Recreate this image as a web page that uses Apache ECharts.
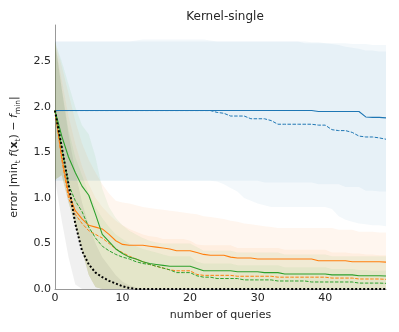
<!DOCTYPE html>
<html>
<head>
<meta charset="utf-8">
<script src="https://cdn.jsdelivr.net/npm/echarts@6/dist/echarts.min.js"></script>
<style>
  html, body { margin: 0; padding: 0; background: #fff; }
  #main { width: 399px; height: 332px; }
</style>
</head>
<body>
<div id="main"></div>
<script>
// queries 0..49
var queries = [];
for (var q = 0; q <= 49; q++) queries.push(q);

var xTicks = [0, 10, 20, 30, 40];
var yTicks = [0.0, 0.5, 1.0, 1.5, 2.0, 2.5];

// mean curves
var blueSolid = [1.96,1.96,1.96,1.96,1.96,1.96,1.96,1.96,1.96,1.96,
  1.96,1.96,1.96,1.96,1.96,1.96,1.96,1.96,1.96,1.96,
  1.96,1.96,1.96,1.96,1.96,1.96,1.96,1.96,1.96,1.96,
  1.96,1.96,1.96,1.96,1.96,1.96,1.96,1.96,1.96,1.95,
  1.95,1.95,1.95,1.95,1.95,1.95,1.89,1.885,1.885,1.88];
var blueDashed = [1.96,1.96,1.96,1.96,1.96,1.96,1.96,1.96,1.96,1.96,
  1.96,1.96,1.96,1.96,1.96,1.96,1.96,1.96,1.96,1.96,
  1.96,1.96,1.96,1.96,1.94,1.93,1.90,1.90,1.90,1.87,
  1.87,1.87,1.85,1.81,1.81,1.81,1.81,1.81,1.81,1.80,
  1.80,1.75,1.74,1.74,1.72,1.68,1.67,1.67,1.66,1.645];
var orangeSolid = [1.96,1.45,1.05,0.86,0.77,0.70,0.68,0.66,0.60,0.53,
  0.49,0.48,0.48,0.48,0.47,0.46,0.45,0.44,0.42,0.42,
  0.42,0.40,0.38,0.37,0.37,0.37,0.35,0.34,0.34,0.34,
  0.33,0.33,0.33,0.33,0.33,0.33,0.33,0.33,0.33,0.31,
  0.31,0.31,0.31,0.31,0.30,0.30,0.30,0.30,0.30,0.295];
var orangeDashed = [1.96,1.42,1.00,0.82,0.72,0.64,0.60,0.56,0.50,0.44,
  0.40,0.36,0.33,0.30,0.27,0.25,0.23,0.21,0.20,0.20,
  0.20,0.16,0.15,0.15,0.15,0.15,0.15,0.14,0.14,0.14,
  0.14,0.14,0.14,0.13,0.13,0.13,0.13,0.13,0.13,0.13,
  0.13,0.12,0.12,0.12,0.12,0.11,0.11,0.11,0.11,0.106];
var greenSolid = [1.96,1.68,1.45,1.28,1.13,1.03,0.82,0.60,0.52,0.44,
  0.39,0.35,0.33,0.30,0.28,0.27,0.26,0.25,0.25,0.25,
  0.25,0.225,0.20,0.20,0.20,0.20,0.20,0.19,0.19,0.19,
  0.19,0.18,0.18,0.18,0.165,0.165,0.165,0.165,0.165,0.165,
  0.165,0.155,0.155,0.155,0.155,0.145,0.145,0.145,0.145,0.143];
var greenDashed = [1.96,1.55,1.15,0.97,0.85,0.68,0.56,0.47,0.42,0.38,
  0.35,0.33,0.30,0.28,0.27,0.25,0.23,0.21,0.18,0.18,
  0.18,0.145,0.13,0.13,0.115,0.115,0.115,0.115,0.10,0.10,
  0.10,0.10,0.10,0.088,0.088,0.088,0.088,0.088,0.077,0.077,
  0.077,0.077,0.077,0.077,0.077,0.065,0.065,0.065,0.065,0.062];
var blackDotted = [1.96,1.56,1.15,0.72,0.42,0.27,0.18,0.13,0.09,0.06,
  0.03,0.01,0,0,0,0,0,0,0,0,
  0,0,0,0,0,0,0,0,0,0,
  0,0,0,0,0,0,0,0,0,0,
  0,0,0,0,0,0,0,0,0,0];

// spread bands: lower / upper
var blueSolidLo = [1.19,1.19,1.19,1.19,1.19,1.19,1.19,1.19,1.19,1.19,
  1.19,1.19,1.19,1.19,1.19,1.19,1.19,1.19,1.19,1.19,
  1.19,1.19,1.19,1.19,1.19,1.19,1.19,1.19,1.19,1.19,
  1.19,1.17,1.17,1.17,1.17,1.17,1.17,1.17,1.17,1.15,
  1.15,1.15,1.15,1.12,1.12,1.12,1.08,1.08,1.07,1.07];
var blueSolidHi = [2.72,2.72,2.72,2.72,2.72,2.72,2.72,2.72,2.72,2.72,
  2.72,2.72,2.73,2.74,2.74,2.74,2.74,2.74,2.74,2.74,
  2.74,2.74,2.74,2.73,2.72,2.72,2.72,2.72,2.72,2.72,
  2.72,2.72,2.72,2.72,2.72,2.72,2.72,2.72,2.71,2.71,
  2.70,2.70,2.70,2.70,2.69,2.69,2.69,2.68,2.68,2.68];
var blueDashedLo = [1.19,1.19,1.19,1.19,1.19,1.19,1.19,1.19,1.19,1.19,
  1.19,1.19,1.19,1.19,1.19,1.19,1.19,1.19,1.19,1.19,
  1.19,1.19,1.19,1.19,1.18,1.15,1.11,1.07,1.00,0.97,
  0.94,0.92,0.90,0.90,0.90,0.90,0.90,0.90,0.90,0.90,
  0.90,0.88,0.80,0.76,0.74,0.72,0.71,0.70,0.70,0.69];
var blueDashedHi = [2.72,2.72,2.72,2.72,2.72,2.72,2.72,2.72,2.72,2.72,
  2.72,2.72,2.72,2.72,2.72,2.72,2.72,2.72,2.72,2.72,
  2.72,2.72,2.72,2.72,2.72,2.72,2.72,2.72,2.72,2.72,
  2.72,2.72,2.72,2.72,2.72,2.72,2.72,2.70,2.70,2.70,
  2.70,2.69,2.68,2.66,2.65,2.64,2.62,2.62,2.61,2.61];
var earlyLo = [1.20,1.25,0.95,0.70,0.42,0.15,0.02,0,0,0,
  0,0,0,0,0,0,0,0,0,0,
  0,0,0,0,0,0,0,0,0,0,
  0,0,0,0,0,0,0,0,0,0,
  0,0,0,0,0,0,0,0,0,0];
var orangeSolidHi = [2.72,2.45,2.15,1.85,1.60,1.42,1.28,1.15,1.05,0.97,
  0.95,0.94,0.92,0.90,0.89,0.88,0.87,0.86,0.85,0.84,
  0.83,0.82,0.80,0.79,0.78,0.77,0.75,0.74,0.72,0.71,
  0.70,0.69,0.68,0.67,0.67,0.67,0.67,0.67,0.67,0.67,
  0.67,0.67,0.65,0.65,0.65,0.63,0.63,0.63,0.62,0.62];
var orangeDashedHi = [2.72,2.30,1.90,1.60,1.35,1.15,1.00,0.90,0.82,0.75,
  0.70,0.66,0.63,0.60,0.58,0.57,0.55,0.55,0.55,0.55,
  0.53,0.49,0.48,0.48,0.48,0.48,0.48,0.45,0.45,0.45,
  0.45,0.45,0.45,0.45,0.43,0.43,0.43,0.43,0.43,0.43,
  0.43,0.40,0.40,0.40,0.39,0.39,0.38,0.38,0.37,0.37];
var greenSolidHi = [2.72,2.50,2.25,2.00,1.80,1.70,1.45,1.10,0.90,0.78,
  0.70,0.64,0.60,0.56,0.53,0.51,0.50,0.50,0.50,0.50,
  0.50,0.46,0.42,0.42,0.42,0.42,0.42,0.40,0.40,0.40,
  0.40,0.40,0.40,0.40,0.38,0.38,0.38,0.38,0.38,0.38,
  0.38,0.36,0.36,0.36,0.36,0.36,0.36,0.36,0.36,0.36];
var greenDashedHi = [2.72,2.20,1.75,1.45,1.25,1.05,0.90,0.78,0.68,0.60,
  0.55,0.50,0.47,0.44,0.42,0.40,0.38,0.36,0.36,0.36,
  0.36,0.30,0.28,0.28,0.28,0.28,0.28,0.26,0.26,0.26,
  0.26,0.26,0.26,0.26,0.24,0.24,0.24,0.24,0.24,0.24,
  0.24,0.22,0.22,0.22,0.22,0.21,0.21,0.20,0.20,0.20];
var blackLo = [1.20,0.75,0.35,0.05,0,0,0,0,0,0,
  0,0,0,0,0,0,0,0,0,0,
  0,0,0,0,0,0,0,0,0,0,
  0,0,0,0,0,0,0,0,0,0,
  0,0,0,0,0,0,0,0,0,0];
var blackHi = [2.72,2.20,1.70,1.30,0.95,0.70,0.50,0.35,0.25,0.15,
  0.08,0.04,0.02,0,0,0,0,0,0,0,
  0,0,0,0,0,0,0,0,0,0,
  0,0,0,0,0,0,0,0,0,0,
  0,0,0,0,0,0,0,0,0,0];

var BLUE = '#1f77b4', ORANGE = '#ff7f0e', GREEN = '#2ca02c';

function pairs(vals) {
  return queries.map(function (q, i) { return [q, vals[i]]; });
}

// fill between lo and hi, drawn as one polygon through the axis scales
function band(lo, hi, fill) {
  return {
    type: 'custom', silent: true, z: 1, clip: true,
    data: [[0, 0]],
    renderItem: function (params, api) {
      var pts = [];
      for (var i = 0; i < queries.length; i++) pts.push(api.coord([queries[i], hi[i]]));
      for (var j = queries.length - 1; j >= 0; j--) pts.push(api.coord([queries[j], lo[j]]));
      return { type: 'polygon', shape: { points: pts }, style: { fill: fill } };
    }
  };
}

function curve(vals, color, dash, width) {
  return { type: 'line', data: pairs(vals), symbol: 'none', silent: true, z: 3,
    lineStyle: { color: color, width: width || 1.1, type: dash || 'solid' } };
}

var series = [
  band(blueSolidLo, blueSolidHi, 'rgba(31,119,180,0.055)'),
  band(blueDashedLo, blueDashedHi, 'rgba(31,119,180,0.055)'),
  band(earlyLo, orangeSolidHi, 'rgba(255,127,14,0.065)'),
  band(earlyLo, orangeDashedHi, 'rgba(255,127,14,0.065)'),
  band(earlyLo, greenSolidHi, 'rgba(44,160,44,0.065)'),
  band(earlyLo, greenDashedHi, 'rgba(44,160,44,0.065)'),
  band(blackLo, blackHi, 'rgba(0,0,0,0.06)'),
  curve(blueSolid, BLUE),
  curve(blueDashed, BLUE, [3.5, 1.5], 1.0),
  curve(orangeSolid, ORANGE),
  curve(orangeDashed, ORANGE, [3.5, 1.5], 1.0),
  curve(greenSolid, GREEN),
  curve(greenDashed, GREEN, [3.5, 1.5], 1.0),
  curve(blackDotted, '#000', [2, 2], 2)
];

var chart = echarts.init(document.getElementById('main'));
chart.setOption({
  animation: false,
  textStyle: { fontFamily: 'DejaVu Sans', color: '#262626' },
  title: {
    text: 'Kernel-single', left: 220, top: 6, textAlign: 'center',
    textStyle: { fontFamily: 'DejaVu Sans', fontSize: 12, fontWeight: 'normal', color: '#262626' }
  },
  grid: { left: 55, right: 13, top: 25, bottom: 43 },
  xAxis: {
    type: 'value', min: 0, max: 49, interval: 10,
    name: 'number of queries', nameLocation: 'middle', nameGap: 21,
    nameTextStyle: { fontFamily: 'DejaVu Sans', fontSize: 11, color: '#262626' },
    splitLine: { show: false },
    axisTick: { show: false },
    axisLine: { lineStyle: { color: '#999', width: 1 } },
    axisLabel: { showMaxLabel: false, margin: 4, fontSize: 11, color: '#262626',
      formatter: function (v) { return xTicks.indexOf(v) >= 0 ? String(v) : ''; } }
  },
  yAxis: {
    type: 'value', min: 0, max: 2.9, interval: 0.5,
    name: '{r|error |min}{s|t}{r| }{i|f}{r|(}{b|x}{s|t}{r|) − }{i|f}{s|min}{r||}',
    nameLocation: 'middle', nameGap: 33,
    nameTextStyle: {
      fontFamily: 'DejaVu Sans', fontSize: 11, color: '#262626',
      rich: {
        r: { fontFamily: 'DejaVu Sans', fontSize: 11, color: '#262626', lineHeight: 16 },
        i: { fontFamily: 'DejaVu Sans', fontSize: 11, fontStyle: 'italic', color: '#262626', lineHeight: 16 },
        b: { fontFamily: 'DejaVu Sans', fontSize: 11, fontWeight: 'bold', color: '#262626', lineHeight: 16 },
        s: { fontFamily: 'DejaVu Sans', fontSize: 7.5, color: '#262626', lineHeight: 16, verticalAlign: 'bottom' }
      }
    },
    splitLine: { show: false },
    axisTick: { show: false },
    axisLine: { show: true, lineStyle: { color: '#999', width: 1 } },
    axisLabel: { showMaxLabel: false, margin: 4, fontSize: 11, color: '#262626',
      formatter: function (v) {
        for (var i = 0; i < yTicks.length; i++) {
          if (Math.abs(yTicks[i] - v) < 1e-6) return yTicks[i].toFixed(1);
        }
        return '';
      } }
  },
  series: series
});
</script>
</body>
</html>
